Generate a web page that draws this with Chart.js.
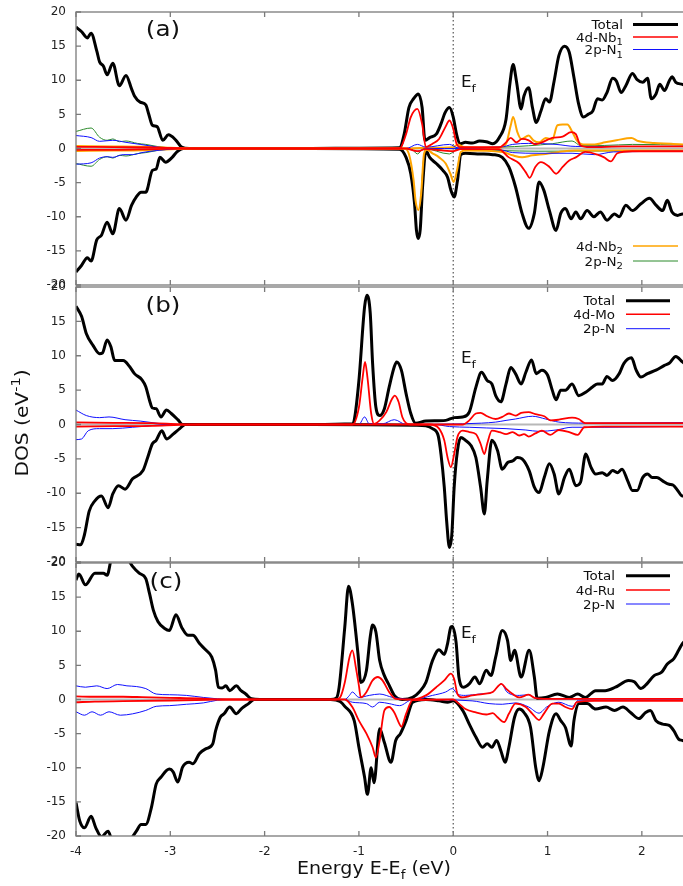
<!DOCTYPE html>
<html>
<head>
<meta charset="utf-8">
<script src="https://cdn.jsdelivr.net/npm/chart.js@4.4.1/dist/chart.umd.min.js"></script>
<style>
  html, body { margin: 0; padding: 0; background: #fff; overflow: hidden; }
  #wrap { position: relative; width: 683px; height: 886px; overflow: hidden; }
  canvas { position: absolute; left: 0; }
</style>
</head>
<body>
<div id="wrap">
  <canvas id="panelA" width="689" height="292" style="top:0px"></canvas>
  <canvas id="panelB" width="689" height="290" style="top:280px"></canvas>
  <canvas id="panelC" width="689" height="330" style="top:556px"></canvas>
</div>
<script>
// axis ticks and texts
const energyTicks = [-4, -3, -2, -1, 0, 1, 2];
const dosTicks = [-20, -15, -10, -5, 0, 5, 10, 15, 20];
const panelTags = ['(a)', '(b)', '(c)'];
const fermiLabel = 'E_f';
const xTitle = 'Energy E-E_f (eV)';
const yTitle = 'DOS (eV^{-1})';
const labelsA = ['Total', '4d-Nb_1', '2p-N_1', '4d-Nb_2', '2p-N_2'];
const labelsB = ['Total', '4d-Mo', '2p-N'];
const labelsC = ['Total', '4d-Ru', '2p-N'];

// ---- panel (a) : [energy, DOS] ----
const aTotUp = [[-4,17.8],[-3.94,17.1],[-3.88,16.2],[-3.84,16.9],[-3.78,14.3],[-3.75,12.7],[-3.71,12.1],[-3.67,10.8],[-3.61,12.5],[-3.54,9.2],[-3.47,10.7],[-3.41,8.7],[-3.38,7.7],[-3.32,6.8],[-3.26,6.4],[-3.23,5.1],[-3.19,3.4],[-3.14,3.2],[-3.08,1.2],[-3.02,2.0],[-2.94,1.2],[-2.88,0.2],[-2.8,0],[-1.5,0],[-1.0,0.05],[-0.57,0.1],[-0.52,2.1],[-0.47,6.0],[-0.42,7.3],[-0.37,8.0],[-0.33,6.0],[-0.30,1.2],[-0.25,1.6],[-0.18,2.1],[-0.13,3.6],[-0.085,5.3],[-0.04,6.0],[0,4.6],[0.035,2.1],[0.07,0.7],[0.13,0.9],[0.2,0.8],[0.28,1.1],[0.35,1.0],[0.42,0.7],[0.49,1.65],[0.56,4.3],[0.60,9.4],[0.635,12.3],[0.67,9.9],[0.72,5.8],[0.75,7.7],[0.80,8.9],[0.84,6.0],[0.88,3.8],[0.93,5.5],[0.98,7.3],[1.02,6.8],[1.07,9.9],[1.12,13.6],[1.18,15.0],[1.23,14.1],[1.28,10.4],[1.33,6.5],[1.38,4.6],[1.43,5.0],[1.48,5.5],[1.53,7.3],[1.58,7.1],[1.63,8.2],[1.69,10.3],[1.73,9.9],[1.78,8.2],[1.83,9.2],[1.90,11.0],[1.95,10.1],[2.01,9.7],[2.06,10.3],[2.10,7.3],[2.15,8.0],[2.19,9.4],[2.24,8.5],[2.29,9.9],[2.32,10.5],[2.36,9.7],[2.43,9.4],[2.5,9.0]];
const aTotDn = [[-4,-18.1],[-3.94,-17.1],[-3.88,-16.0],[-3.84,-16.5],[-3.78,-13.4],[-3.73,-12.7],[-3.67,-10.8],[-3.61,-12.5],[-3.54,-8.8],[-3.47,-10.5],[-3.41,-8.3],[-3.36,-7.1],[-3.31,-6.4],[-3.26,-6.4],[-3.19,-3.2],[-3.15,-3.0],[-3.11,-1.3],[-3.05,-2.0],[-2.98,-1.3],[-2.93,-0.5],[-2.86,0],[-1.5,0],[-0.57,-0.1],[-0.50,-1.3],[-0.45,-3.7],[-0.41,-8.1],[-0.39,-12.0],[-0.37,-13.2],[-0.35,-11.9],[-0.325,-5.6],[-0.29,-0.3],[-0.25,-1.3],[-0.18,-2.2],[-0.11,-3.2],[-0.06,-4.2],[-0.025,-6.1],[0.01,-7.1],[0.045,-4.7],[0.08,-0.9],[0.13,-0.7],[0.28,-0.8],[0.42,-0.9],[0.52,-1.3],[0.59,-2.7],[0.66,-5.6],[0.73,-9.5],[0.80,-11.7],[0.86,-9.5],[0.91,-4.9],[0.96,-6.1],[1.02,-9.1],[1.09,-12.0],[1.14,-9.5],[1.19,-8.8],[1.25,-10.3],[1.30,-9.3],[1.35,-10.3],[1.42,-9.1],[1.49,-10.0],[1.56,-9.3],[1.63,-10.5],[1.71,-9.6],[1.76,-10.0],[1.83,-8.3],[1.90,-9.1],[1.99,-8.1],[2.08,-7.3],[2.15,-8.3],[2.22,-9.1],[2.27,-7.6],[2.32,-9.3],[2.38,-9.8],[2.43,-9.6],[2.5,-10.0]];
const aNb1Up = [[-4,0.25],[-3.6,0.2],[-3.2,0.15],[-2.9,0.05],[-2.7,0],[-0.57,0],[-0.50,2.1],[-0.45,4.6],[-0.38,5.8],[-0.33,3.6],[-0.29,0.2],[-0.22,0.7],[-0.15,1.4],[-0.085,3.1],[-0.04,4.1],[0,2.9],[0.035,0.7],[0.08,0.2],[0.49,0.2],[0.56,0.9],[0.61,1.55],[0.67,0.9],[0.73,1.4],[0.80,1.2],[0.87,0.6],[0.94,0.9],[1.05,1.55],[1.16,1.75],[1.25,2.4],[1.30,2.1],[1.35,0.45],[1.45,0.2],[1.8,0.3],[2.1,0.3],[2.5,0.3]];
const aNb1Dn = [[-4,-0.2],[-3.6,-0.2],[-3.2,-0.1],[-2.8,0],[-0.5,0],[-0.42,-0.3],[-0.37,-0.4],[-0.3,-0.1],[-0.1,-0.3],[0,-0.4],[0.08,-0.1],[0.48,-0.1],[0.59,-1.3],[0.70,-2.2],[0.77,-3.5],[0.81,-4.3],[0.87,-2.7],[0.93,-2.0],[1.02,-2.7],[1.09,-3.7],[1.16,-2.7],[1.23,-1.75],[1.30,-1.3],[1.40,-0.5],[1.53,-0.9],[1.60,-1.3],[1.67,-1.9],[1.74,-0.7],[1.9,-0.4],[2.5,-0.4]];
const aN1Up = [[-4,1.9],[-3.84,1.6],[-3.75,1.05],[-3.61,1.2],[-3.47,0.9],[-3.32,0.6],[-3.2,0.35],[-3.1,0.15],[-2.9,0],[-0.5,0],[-0.38,0.6],[-0.29,0.2],[-0.04,0.6],[0.05,0.1],[0.5,0.2],[0.63,0.6],[0.80,0.75],[1.09,0.6],[1.3,0.3],[2.5,0.3]];
const aN1Dn = [[-4,-2.3],[-3.84,-2.1],[-3.75,-1.4],[-3.67,-1.2],[-3.61,-1.3],[-3.5,-0.9],[-3.4,-0.9],[-3.3,-0.6],[-3.15,-0.3],[-3.0,-0.1],[-2.9,0],[-0.5,0],[-0.38,-0.4],[-0.29,0],[0.5,-0.2],[0.63,-0.6],[0.91,-0.7],[1.26,-0.7],[1.50,-0.9],[1.70,-0.5],[2.5,-0.4]];
const aNb2Up = [[-4,0.35],[-3.6,0.3],[-3.3,0.25],[-3.0,0.1],[-2.7,0],[-0.5,0],[-0.3,0.1],[0,0.2],[0.05,0.6],[0.12,0.2],[0.48,0.1],[0.56,0.7],[0.61,3.4],[0.635,4.6],[0.68,2.4],[0.72,1.4],[0.80,1.9],[0.85,1.2],[0.91,0.9],[0.98,1.55],[1.05,1.3],[1.105,3.4],[1.16,3.5],[1.21,3.5],[1.26,2.5],[1.31,1.2],[1.38,0.6],[1.50,0.6],[1.61,0.9],[1.73,1.2],[1.89,1.55],[1.96,1.1],[2.13,0.8],[2.31,0.7],[2.5,0.5]];
const aNb2Dn = [[-4,-0.35],[-3.6,-0.3],[-3.3,-0.25],[-3.0,-0.1],[-2.7,0],[-0.52,0],[-0.47,-0.8],[-0.42,-4.7],[-0.40,-7.6],[-0.37,-9.0],[-0.34,-6.6],[-0.31,-0.8],[-0.28,-0.2],[-0.22,-0.7],[-0.15,-1.3],[-0.08,-2.2],[-0.03,-3.7],[0.005,-4.9],[0.04,-3.2],[0.08,-0.5],[0.13,-0.3],[0.52,-0.5],[0.63,-1.0],[0.73,-1.3],[0.84,-1.0],[0.98,-0.8],[1.12,-0.5],[1.3,-0.3],[2.5,-0.3]];
const aN2Up = [[-4,2.5],[-3.84,3.0],[-3.75,1.65],[-3.67,1.2],[-3.61,1.4],[-3.54,1.0],[-3.47,1.1],[-3.35,0.75],[-3.26,0.6],[-3.14,0.3],[-3.02,0.1],[-2.9,0],[-0.5,0],[0.5,0.2],[0.8,0.4],[1.05,0.7],[1.26,1.1],[1.35,0.45],[1.6,0.45],[1.9,0.6],[2.5,0.5]];
const aN2Dn = [[-4,-2.2],[-3.84,-2.6],[-3.75,-1.6],[-3.67,-1.2],[-3.61,-1.4],[-3.54,-1.0],[-3.47,-1.1],[-3.35,-0.75],[-3.26,-0.6],[-3.14,-0.3],[-3.02,-0.1],[-2.9,0],[-0.45,0],[-0.38,-0.8],[-0.31,0],[-0.04,-0.8],[0.04,-0.1],[0.5,-0.3],[0.9,-0.4],[2.5,-0.3]];

// ---- panel (b) ----
const bTotUp = [[-4,17.2],[-3.94,15.7],[-3.89,13.2],[-3.82,11.5],[-3.75,10.3],[-3.72,10.4],[-3.67,12.3],[-3.63,11.3],[-3.59,9.3],[-3.50,9.3],[-3.43,8.4],[-3.38,7.4],[-3.30,6.5],[-3.26,5.5],[-3.22,3.5],[-3.19,2.4],[-3.15,2.3],[-3.10,1.1],[-3.04,2.1],[-2.99,1.6],[-2.92,0.7],[-2.87,0],[-1.5,0],[-1.07,0.1],[-1.05,0.6],[-1.0,6.4],[-0.94,17.1],[-0.915,18.8],[-0.88,16.2],[-0.855,8.9],[-0.82,2.5],[-0.78,1.3],[-0.73,2.3],[-0.68,5.4],[-0.625,8.4],[-0.60,9.1],[-0.55,7.9],[-0.50,4.5],[-0.45,1.6],[-0.40,0.2],[-0.29,0.5],[-0.08,0.6],[0.01,1.0],[0.10,1.1],[0.17,1.8],[0.24,5.4],[0.30,7.6],[0.36,6.4],[0.41,5.9],[0.45,4.2],[0.505,3.3],[0.56,5.9],[0.61,8.3],[0.66,7.4],[0.72,5.9],[0.77,7.6],[0.83,9.4],[0.88,7.4],[0.94,7.9],[1.0,7.2],[1.05,5.0],[1.09,3.6],[1.14,5.0],[1.19,5.0],[1.26,5.9],[1.33,4.2],[1.405,4.7],[1.48,5.5],[1.53,5.9],[1.58,5.9],[1.63,7.0],[1.69,6.4],[1.76,7.4],[1.81,8.9],[1.89,9.7],[1.94,7.9],[1.99,6.9],[2.06,7.4],[2.15,7.9],[2.24,8.6],[2.29,8.9],[2.36,9.9],[2.43,9.1],[2.5,8.3]];
const bTotDn = [[-4,-17.4],[-3.95,-17.5],[-3.91,-16.0],[-3.86,-12.6],[-3.80,-11.1],[-3.73,-10.4],[-3.66,-12.1],[-3.61,-10.1],[-3.55,-8.9],[-3.48,-9.4],[-3.40,-7.9],[-3.29,-6.7],[-3.24,-4.8],[-3.19,-2.8],[-3.15,-2.3],[-3.09,-0.9],[-3.04,-2.1],[-2.97,-1.4],[-2.90,-0.6],[-2.84,0],[-1.5,0],[-0.4,-0.1],[-0.29,-0.2],[-0.22,-0.6],[-0.16,-1.6],[-0.13,-4.3],[-0.095,-9.1],[-0.07,-14.0],[-0.04,-17.9],[-0.015,-16.0],[0.01,-9.1],[0.045,-3.8],[0.08,-1.9],[0.13,-2.3],[0.19,-3.1],[0.24,-4.8],[0.29,-9.1],[0.33,-13.0],[0.36,-8.2],[0.41,-2.3],[0.47,-3.8],[0.52,-6.5],[0.58,-5.5],[0.63,-5.3],[0.68,-4.8],[0.73,-5.0],[0.805,-6.7],[0.86,-9.1],[0.91,-9.9],[0.965,-7.7],[1.02,-5.7],[1.07,-7.2],[1.12,-10.1],[1.18,-7.7],[1.23,-6.5],[1.30,-8.9],[1.35,-8.4],[1.405,-4.3],[1.46,-6.2],[1.51,-7.2],[1.58,-7.0],[1.63,-7.4],[1.69,-6.7],[1.74,-7.0],[1.79,-6.5],[1.85,-8.2],[1.90,-9.6],[1.95,-9.6],[2.01,-7.7],[2.06,-7.2],[2.11,-7.7],[2.16,-7.7],[2.22,-8.2],[2.29,-8.7],[2.33,-8.8],[2.38,-9.6],[2.43,-10.4],[2.5,-10.4]];
const bMoUp = [[-4,0.3],[-3.6,0.25],[-3.2,0.2],[-2.9,0.05],[-2.7,0],[-1.07,0],[-1.0,2.5],[-0.96,6.9],[-0.935,9.1],[-0.91,6.9],[-0.87,1.6],[-0.84,0.1],[-0.78,0.6],[-0.71,1.8],[-0.65,3.7],[-0.62,4.2],[-0.58,3.3],[-0.54,1.1],[-0.50,0.2],[-0.45,0],[0.10,0],[0.17,0.6],[0.24,1.6],[0.29,1.7],[0.36,1.2],[0.45,0.8],[0.52,1.1],[0.59,1.6],[0.66,1.3],[0.72,1.7],[0.80,1.8],[0.87,1.5],[0.965,1.2],[1.03,0.6],[1.12,0.7],[1.26,1.0],[1.33,0.8],[1.40,0.2],[2.5,0.2]];
const bMoDn = [[-4,-0.3],[-3.6,-0.25],[-3.2,-0.2],[-2.9,-0.05],[-2.7,0],[-0.25,0],[-0.15,-0.6],[-0.095,-2.3],[-0.06,-4.8],[-0.025,-6.2],[0.01,-4.3],[0.045,-1.8],[0.10,-0.9],[0.17,-1.1],[0.24,-1.4],[0.29,-2.8],[0.33,-4.3],[0.36,-2.8],[0.41,-0.9],[0.49,-1.1],[0.56,-1.4],[0.63,-1.1],[0.70,-1.6],[0.75,-1.4],[0.80,-1.75],[0.87,-1.3],[0.94,-0.9],[1.03,-1.5],[1.12,-0.8],[1.23,-1.1],[1.32,-1.5],[1.39,-0.4],[1.6,-0.3],[2.5,-0.3]];
const bNUp = [[-4,2.1],[-3.89,1.3],[-3.75,1.0],[-3.65,1.1],[-3.48,0.7],[-3.32,0.5],[-3.15,0.2],[-3.0,0],[-1.0,0],[-0.94,1.1],[-0.89,0.1],[-0.75,0.1],[-0.625,0.7],[-0.5,0],[0.1,0.1],[0.3,0.2],[0.45,0.35],[0.56,0.6],[0.66,0.8],[0.84,1.2],[0.98,0.8],[1.12,0.35],[1.40,0.2],[2.5,0.3]];
const bNDn = [[-4,-2.2],[-3.94,-2.1],[-3.87,-0.9],[-3.75,-0.6],[-3.61,-0.6],[-3.4,-0.4],[-3.22,-0.2],[-3.05,0],[-0.2,0],[-0.04,-0.3],[0.17,-0.4],[0.35,-0.5],[0.56,-0.6],[0.77,-0.8],[0.91,-1.0],[1.09,-0.8],[1.26,-0.4],[1.6,-0.4],[2.3,-0.3],[2.5,-0.3]];

// ---- panel (c) ----
const cTotUp = [[-4,17.5],[-3.97,18.4],[-3.90,16.8],[-3.80,18.5],[-3.71,18.5],[-3.67,18.2],[-3.62,21],[-3.55,22],[-3.47,21],[-3.40,19.5],[-3.33,18.5],[-3.26,17.7],[-3.22,15.5],[-3.18,13.1],[-3.13,11.4],[-3.06,10.4],[-3.01,10.1],[-2.94,12.4],[-2.88,10.6],[-2.81,9.4],[-2.76,9.4],[-2.69,8.2],[-2.62,7.2],[-2.56,6.2],[-2.52,4.3],[-2.49,1.8],[-2.45,1.7],[-2.41,2.0],[-2.37,1.3],[-2.30,2.0],[-2.25,1.3],[-2.20,0.8],[-2.14,0.1],[-2.05,0],[-1.3,0],[-1.24,0.2],[-1.21,1.8],[-1.15,10.6],[-1.11,16.6],[-1.07,14.1],[-1.01,6.7],[-0.98,2.5],[-0.92,4.3],[-0.88,9.2],[-0.855,10.9],[-0.82,9.9],[-0.78,5.7],[-0.73,3.5],[-0.68,2.1],[-0.625,0.6],[-0.54,0],[-0.43,0.3],[-0.36,1.1],[-0.29,2.5],[-0.22,5.7],[-0.15,7.3],[-0.095,6.6],[-0.06,8.2],[-0.025,10.6],[-0.01,10.7],[0.03,8.4],[0.06,3.3],[0.11,1.8],[0.17,2.3],[0.23,3.3],[0.28,2.3],[0.35,4.3],[0.40,3.5],[0.45,6.2],[0.52,10.1],[0.575,8.7],[0.61,5.7],[0.65,7.2],[0.72,3.3],[0.805,7.2],[0.86,3.3],[0.89,0.2],[0.98,0.3],[1.105,0.8],[1.23,0.3],[1.32,0.8],[1.40,0.3],[1.51,1.3],[1.61,1.3],[1.72,1.8],[1.86,2.8],[1.92,2.6],[1.99,1.6],[2.04,2.1],[2.13,3.5],[2.21,4.0],[2.27,5.2],[2.34,6.0],[2.39,7.2],[2.43,8.2],[2.5,9.0]];
const cTotDn = [[-4,-15.1],[-3.96,-17.8],[-3.91,-18.8],[-3.84,-17.1],[-3.79,-18.8],[-3.73,-20.1],[-3.66,-19.3],[-3.62,-20.6],[-3.55,-22],[-3.47,-21.5],[-3.41,-20.3],[-3.36,-19.3],[-3.31,-18.3],[-3.26,-18.3],[-3.20,-15.8],[-3.15,-12.4],[-3.10,-11.4],[-3.01,-10.2],[-2.97,-10.6],[-2.92,-12.1],[-2.87,-9.9],[-2.80,-9.2],[-2.76,-9.4],[-2.69,-7.9],[-2.62,-7.2],[-2.55,-6.5],[-2.52,-4.6],[-2.47,-2.6],[-2.43,-2.1],[-2.37,-1.1],[-2.30,-2.1],[-2.25,-1.4],[-2.17,-0.6],[-2.11,0],[-1.3,0],[-1.2,-0.3],[-1.15,-1.0],[-1.05,-3.1],[-1.0,-7.0],[-0.94,-11.4],[-0.91,-13.9],[-0.87,-10.0],[-0.84,-12.2],[-0.78,-4.3],[-0.73,-6.3],[-0.66,-9.2],[-0.61,-6.0],[-0.56,-5.0],[-0.50,-3.1],[-0.43,-0.4],[-0.29,0],[-0.15,-0.2],[-0.06,-0.4],[0.0,-0.2],[0.10,-1.6],[0.17,-3.6],[0.24,-5.5],[0.31,-7.0],[0.36,-6.5],[0.41,-7.0],[0.46,-6.0],[0.505,-7.5],[0.55,-9.2],[0.59,-7.0],[0.65,-2.6],[0.70,-1.4],[0.75,-1.9],[0.82,-4.1],[0.875,-10.0],[0.91,-11.9],[0.95,-10.0],[1.02,-4.6],[1.09,-2.1],[1.14,-3.1],[1.19,-4.1],[1.25,-6.8],[1.28,-3.1],[1.335,-0.6],[1.42,-0.6],[1.51,-1.4],[1.62,-1.1],[1.71,-1.6],[1.80,-1.1],[1.88,-1.9],[1.97,-2.8],[2.04,-1.9],[2.09,-1.6],[2.15,-3.1],[2.22,-3.6],[2.29,-3.8],[2.34,-4.6],[2.39,-5.8],[2.43,-6.0],[2.5,-6.5]];
const cRuUp = [[-4,0.45],[-3.8,0.4],[-3.5,0.4],[-3.3,0.35],[-3.0,0.25],[-2.7,0.15],[-2.45,0],[-1.25,0],[-1.2,0.3],[-1.15,2.5],[-1.1,6.2],[-1.07,7.2],[-1.03,4.5],[-1.0,2.0],[-0.98,0.3],[-0.92,1.1],[-0.855,2.8],[-0.80,3.3],[-0.75,2.8],[-0.68,1.1],[-0.61,0.1],[-0.43,0],[-0.29,0.6],[-0.18,1.8],[-0.095,2.8],[-0.025,3.8],[0.01,3.0],[0.045,0.8],[0.10,0.3],[0.2,0.6],[0.31,0.8],[0.42,1.1],[0.51,2.3],[0.56,1.6],[0.63,0.8],[0.70,0.3],[0.80,0.7],[0.87,0.2],[1.0,0.1],[2.5,0.1]];
const cRuDn = [[-4,-0.4],[-3.8,-0.3],[-3.5,-0.25],[-3.0,-0.15],[-2.6,-0.05],[-2.45,0],[-1.15,0],[-1.07,-1.1],[-1.0,-3.1],[-0.92,-5.0],[-0.855,-7.0],[-0.82,-8.5],[-0.78,-6.0],[-0.73,-1.6],[-0.68,-1.1],[-0.625,-1.9],[-0.57,-3.6],[-0.55,-4.0],[-0.50,-2.1],[-0.43,-0.1],[0.0,0],[0.06,-0.6],[0.13,-1.4],[0.24,-1.9],[0.35,-2.2],[0.42,-2.0],[0.47,-2.6],[0.54,-3.3],[0.59,-2.1],[0.66,-0.6],[0.77,-1.1],[0.84,-2.1],[0.91,-3.0],[0.96,-2.1],[1.05,-0.6],[1.12,-0.6],[1.19,-1.1],[1.26,-1.4],[1.31,-0.4],[1.5,-0.2],[2.5,-0.2]];
const cNUp = [[-4,2.0],[-3.9,1.8],[-3.78,2.0],[-3.67,1.6],[-3.56,2.2],[-3.46,2.0],[-3.36,1.9],[-3.26,1.6],[-3.15,0.8],[-3.01,0.7],[-2.83,0.6],[-2.65,0.3],[-2.5,0.1],[-2.4,0],[-1.15,0],[-1.10,0.6],[-1.07,1.1],[-1.0,0.3],[-0.89,0.6],[-0.78,0.8],[-0.64,0.3],[-0.43,0],[-0.22,0.6],[-0.08,1.1],[-0.01,1.6],[0.045,0.8],[0.13,0.6],[0.28,0.8],[0.42,1.1],[0.51,2.3],[0.57,1.1],[0.70,0.6],[0.80,0.7],[0.87,0.2],[1.0,0.1],[2.5,0.1]];
const cNDn = [[-4,-1.8],[-3.91,-2.3],[-3.83,-1.8],[-3.74,-2.3],[-3.65,-1.8],[-3.53,-2.3],[-3.40,-2.1],[-3.26,-1.6],[-3.15,-1.0],[-3.01,-0.9],[-2.83,-0.7],[-2.65,-0.5],[-2.5,-0.1],[-2.4,0],[-1.15,0],[-1.07,-0.4],[-0.92,-0.6],[-0.855,-1.1],[-0.78,-0.4],[-0.68,-0.6],[-0.57,-0.9],[-0.43,0],[0.2,-0.2],[0.38,-0.6],[0.52,-0.7],[0.66,-0.5],[0.80,-1.1],[0.91,-2.0],[0.99,-1.1],[1.12,-0.4],[1.26,-1.0],[1.33,-0.1],[2.5,-0.1]];

const lineStyles = {
  total:  { color: '#000000', width: 3, legendWidth: 3 },
  red:    { color: '#ff0000', width: 1.8, legendWidth: 1.5 },
  blue:   { color: '#1010ff', width: 1, legendWidth: 1 },
  orange: { color: '#ffa500', width: 2, legendWidth: 1.5 },
  green:  { color: '#2a8a2a', width: 1, legendWidth: 1 }
};

const TEXT_STRETCH = 1.12;

function parseRich(str) {
  const segs = [];
  let i = 0, buf = '';
  while (i < str.length) {
    const c = str[i];
    if (c === '_' || c === '^') {
      if (buf) { segs.push({ t: buf, k: 0 }); buf = ''; }
      let t;
      if (str[i + 1] === '{') {
        const j = str.indexOf('}', i);
        t = str.slice(i + 2, j);
        i = j + 1;
      } else {
        t = str[i + 1];
        i += 2;
      }
      segs.push({ t, k: c === '_' ? 1 : -1 });
    } else {
      buf += c;
      i++;
    }
  }
  if (buf) segs.push({ t: buf, k: 0 });
  return segs;
}

// text with sub/superscripts, y is the baseline
function drawRich(ctx, str, x, y, size, align, rotate) {
  const segs = parseRich(str);
  const fontFor = k => (k ? Math.round(size * 0.72) : size) + 'px "DejaVu Sans"';
  let w = 0;
  segs.forEach(s => { ctx.font = fontFor(s.k); s.w = ctx.measureText(s.t).width; w += s.w; });
  ctx.save();
  ctx.translate(x, y);
  if (rotate) ctx.rotate(-Math.PI / 2);
  ctx.scale(TEXT_STRETCH, 1);
  let cx = align === 'right' ? -w : align === 'center' ? -w / 2 : 0;
  ctx.fillStyle = '#111';
  ctx.textBaseline = 'alphabetic';
  ctx.textAlign = 'left';
  segs.forEach(s => {
    ctx.font = fontFor(s.k);
    const dy = s.k === 1 ? size * 0.3 : s.k === -1 ? -size * 0.42 : 0;
    ctx.fillText(s.t, cx, dy);
    cx += s.w;
  });
  ctx.restore();
}

const panelDefs = [
  {
    canvas: 'panelA', top: 0, pad: { top: 12, bottom: 7 }, showX: false,
    tag: panelTags[0], tagPos: [163, 36], fermiY: 87,
    curves: [
      [aTotUp, aTotDn, 'total'], [aNb1Up, aNb1Dn, 'red'], [aN1Up, aN1Dn, 'blue'],
      [aNb2Up, aNb2Dn, 'orange'], [aN2Up, aN2Dn, 'green']
    ],
    legend: [
      { label: labelsA[0], style: 'total', y: 24.5, right: 623, l1: 633, l2: 678 },
      { label: labelsA[1], style: 'red', y: 37, right: 623, l1: 633, l2: 678 },
      { label: labelsA[2], style: 'blue', y: 49.5, right: 623, l1: 633, l2: 678 },
      { label: labelsA[3], style: 'orange', y: 246, right: 623, l1: 633, l2: 678 },
      { label: labelsA[4], style: 'green', y: 261, right: 623, l1: 633, l2: 678 }
    ]
  },
  {
    canvas: 'panelB', top: 280, pad: { top: 7, bottom: 8 }, showX: false, yTitle: true,
    tag: panelTags[1], tagPos: [163, 312], fermiY: 363,
    curves: [[bTotUp, bTotDn, 'total'], [bMoUp, bMoDn, 'red'], [bNUp, bNDn, 'blue']],
    legend: [
      { label: labelsB[0], style: 'total', y: 300.7, right: 615, l1: 626, l2: 670 },
      { label: labelsB[1], style: 'red', y: 314.3, right: 615, l1: 626, l2: 670 },
      { label: labelsB[2], style: 'blue', y: 328.7, right: 615, l1: 626, l2: 670 }
    ]
  },
  {
    canvas: 'panelC', top: 556, pad: { top: 7, bottom: 0 }, showX: true,
    tag: panelTags[2], tagPos: [166, 588], fermiY: 638,
    curves: [[cTotUp, cTotDn, 'total'], [cRuUp, cRuDn, 'red'], [cNUp, cNDn, 'blue']],
    legend: [
      { label: labelsC[0], style: 'total', y: 575.7, right: 615, l1: 626, l2: 670 },
      { label: labelsC[1], style: 'red', y: 590, right: 615, l1: 626, l2: 670 },
      { label: labelsC[2], style: 'blue', y: 604, right: 615, l1: 626, l2: 670 }
    ]
  }
];

function decoPlugin(def) {
  return {
    id: 'deco' + def.canvas,
    beforeDatasetsDraw(chart) {
      const { ctx, chartArea: a, scales: { x, y } } = chart;
      ctx.save();
      const y0 = y.getPixelForValue(0);
      ctx.strokeStyle = '#b8b8b8';
      ctx.lineWidth = 2;
      ctx.beginPath(); ctx.moveTo(a.left, y0); ctx.lineTo(a.right, y0); ctx.stroke();
      const x0 = x.getPixelForValue(0);
      ctx.strokeStyle = '#555';
      ctx.lineWidth = 1.2;
      ctx.setLineDash([1.5, 2.5]);
      ctx.beginPath(); ctx.moveTo(x0, a.top); ctx.lineTo(x0, a.bottom); ctx.stroke();
      ctx.restore();
    },
    afterDatasetsDraw(chart) {
      const { ctx, chartArea: a, scales: { x, y } } = chart;
      const off = def.top;
      ctx.save();
      // frame with inward ticks
      ctx.strokeStyle = '#7a7a7a';
      ctx.lineWidth = 1.3;
      ctx.strokeRect(a.left, a.top, a.right - a.left, a.bottom - a.top);
      ctx.beginPath();
      energyTicks.forEach(v => {
        const px = x.getPixelForValue(v);
        ctx.moveTo(px, a.top); ctx.lineTo(px, a.top + 5);
        ctx.moveTo(px, a.bottom); ctx.lineTo(px, a.bottom - 5);
      });
      dosTicks.forEach(v => {
        const py = y.getPixelForValue(v);
        ctx.moveTo(a.left, py); ctx.lineTo(a.left + 5, py);
        ctx.moveTo(a.right, py); ctx.lineTo(a.right - 5, py);
      });
      ctx.stroke();
      // panel tag and Fermi label
      drawRich(ctx, def.tag, def.tagPos[0], def.tagPos[1] - off, 22, 'center');
      drawRich(ctx, fermiLabel, 461, def.fermiY - off, 15, 'left');
      // legend, gnuplot style
      def.legend.forEach(item => {
        const st = lineStyles[item.style];
        drawRich(ctx, item.label, item.right, item.y - off + 4.5, 12, 'right');
        ctx.strokeStyle = st.color;
        ctx.lineWidth = st.legendWidth;
        ctx.beginPath(); ctx.moveTo(item.l1, item.y - off); ctx.lineTo(item.l2, item.y - off); ctx.stroke();
      });
      if (def.yTitle) drawRich(ctx, yTitle, 28, 423 - off, 18, 'center', true);
      if (def.showX) drawRich(ctx, xTitle, 297, 874 - off, 17, 'left');
      ctx.restore();
    }
  };
}

const tickFont = { family: 'DejaVu Sans', size: 12, lineHeight: 1 };

panelDefs.forEach(def => {
  const datasets = [];
  def.curves.forEach(([up, dn, styleKey]) => {
    const st = lineStyles[styleKey];
    [up, dn].forEach(series => {
      datasets.push({
        data: series.map(([e, v]) => ({ x: e, y: v })),
        borderColor: st.color,
        borderWidth: st.width,
        pointRadius: 0,
        fill: false,
        cubicInterpolationMode: 'monotone',
        order: styleKey === 'total' ? 2 : 1
      });
    });
  });

  new Chart(document.getElementById(def.canvas), {
    type: 'line',
    data: { datasets },
    options: {
      responsive: false,
      animation: false,
      events: [],
      layout: { padding: { top: def.pad.top, bottom: def.pad.bottom, left: 0, right: 0 } },
      plugins: { legend: { display: false }, tooltip: { enabled: false } },
      scales: {
        x: {
          type: 'linear', min: -4, max: 2.5, display: def.showX,
          afterBuildTicks: s => { s.ticks = energyTicks.map(v => ({ value: v })); },
          afterFit: s => { s.height = def.showX ? 50 : 0; },
          grid: { display: false, drawTicks: true, tickLength: 10 },
          border: { display: false },
          ticks: { padding: 0, color: '#222', font: tickFont, maxRotation: 0, callback: v => String(v) }
        },
        y: {
          type: 'linear', min: -20, max: 20,
          afterBuildTicks: s => { s.ticks = dosTicks.map(v => ({ value: v })); },
          afterFit: s => { s.width = 76; },
          grid: { display: false, drawTicks: true, tickLength: 10 },
          border: { display: false },
          ticks: { padding: 0, color: '#222', font: tickFont, callback: v => String(v) }
        }
      }
    },
    plugins: [decoPlugin(def)]
  });
});
</script>
</body>
</html>
